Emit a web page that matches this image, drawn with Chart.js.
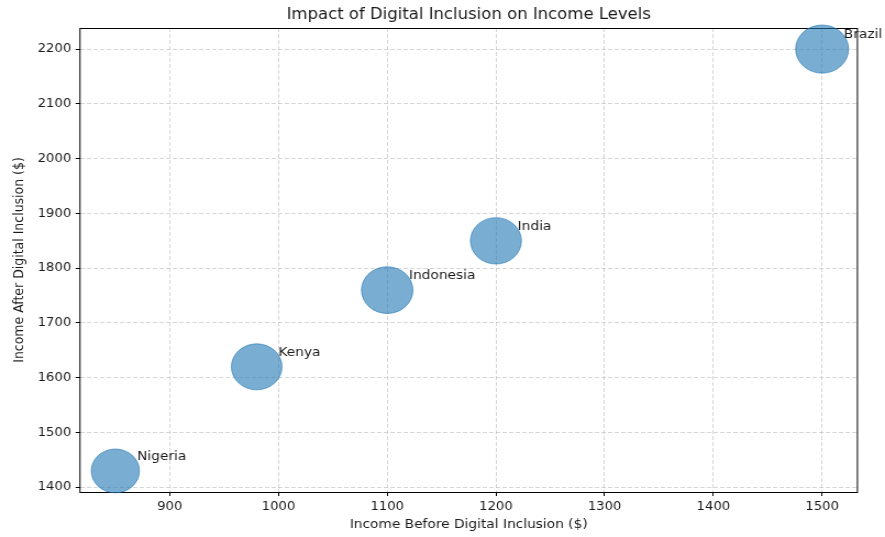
<!DOCTYPE html>
<html>
<head>
<meta charset="utf-8">
<script src="https://cdn.jsdelivr.net/npm/chart.js@4"></script>
<style>
html, body { margin: 0; padding: 0; background: #fff; }
</style>
</head>
<body>
<!-- the reference is stretched sideways a little, so the canvas is too -->
<canvas id="incomeChart" width="805" height="537" style="width:885px;height:537px;display:block"></canvas>
<script>
const countries = ['Nigeria', 'Kenya', 'Indonesia', 'India', 'Brazil'];
const incomeBefore = [850, 980, 1100, 1200, 1500];
const incomeAfter = [1430, 1620, 1760, 1850, 2200];
const xTicks = [900, 1000, 1100, 1200, 1300, 1400, 1500];
const yTicks = [1400, 1500, 1600, 1700, 1800, 1900, 2000, 2100, 2200];

const FONT = "'DejaVu Sans', sans-serif";
const TEXT = '#1a1a1a';
const STRETCH = 885 / 805;

// bubble area follows the income gain
const points = countries.map((c, i) => ({
    x: incomeBefore[i],
    y: incomeAfter[i],
    r: Math.sqrt(incomeAfter[i] - incomeBefore[i]) * 0.91
}));

const extras = {
    id: 'extras',
    beforeDatasetsDraw(chart) {
        const {ctx, chartArea: a} = chart;
        ctx.save();
        ctx.strokeStyle = '#000';
        ctx.lineWidth = 1;
        ctx.strokeRect(a.left, Math.round(a.top) + 0.5, a.right - a.left, Math.round(a.bottom - a.top));
        ctx.restore();
    },
    afterDatasetsDraw(chart) {
        const {ctx, chartArea: a, scales} = chart;
        ctx.save();
        ctx.fillStyle = TEXT;
        ctx.font = '12.5px ' + FONT;
        ctx.textAlign = 'left';
        ctx.textBaseline = 'alphabetic';
        countries.forEach((c, i) => {
            const px = scales.x.getPixelForValue(incomeBefore[i] + 20);
            const py = scales.y.getPixelForValue(incomeAfter[i] + 20);
            ctx.fillText(c, px, py);
        });

        ctx.textAlign = 'center';
        ctx.textBaseline = 'middle';
        ctx.font = '15px ' + FONT;
        ctx.fillText('Impact of Digital Inclusion on Income Levels', (a.left + a.right) / 2, 15);

        ctx.font = '12.5px ' + FONT;
        ctx.fillText('Income Before Digital Inclusion ($)', (a.left + a.right) / 2, 525);

        ctx.translate(20 / STRETCH, (a.top + a.bottom) / 2);
        ctx.rotate(-Math.PI / 2);
        ctx.fillText('Income After Digital Inclusion ($)', 0, 0);
        ctx.restore();
    }
};

const ctx = document.getElementById('incomeChart').getContext('2d');
const chart = new Chart(ctx, {
    type: 'bubble',
    data: {
        datasets: [{
            label: 'Countries',
            data: points,
            backgroundColor: 'rgba(31, 119, 180, 0.6)',
            borderColor: 'rgba(31, 119, 180, 0.6)',
            borderWidth: 1,
            hoverRadius: 0,
            clip: false
        }]
    },
    options: {
        responsive: false,
        devicePixelRatio: 1,
        animation: false,
        events: [],
        layout: {
            padding: {top: 28, right: 805 - 858 / STRETCH, left: 0, bottom: 0}
        },
        plugins: {
            legend: {display: false},
            title: {display: false},
            tooltip: {enabled: false}
        },
        scales: {
            x: {
                type: 'linear',
                min: 817.5,
                max: 1532.5,
                afterBuildTicks: axis => { axis.ticks = xTicks.map(v => ({value: v})); },
                afterFit: axis => { axis.height = 45; },
                border: {display: false, dash: [4, 2]},
                grid: {
                    color: 'rgba(176, 176, 176, 0.5)',
                    lineWidth: 1,
                    tickColor: '#000',
                    tickLength: 4,
                    tickBorderDash: []
                },
                ticks: {
                    color: TEXT,
                    font: {family: FONT, size: 12},
                    padding: 4,
                    maxRotation: 0,
                    callback: v => String(v)
                }
            },
            y: {
                type: 'linear',
                min: 1391.5,
                max: 2238.5,
                afterBuildTicks: axis => { axis.ticks = yTicks.map(v => ({value: v})); },
                afterFit: axis => { axis.width = 80 / STRETCH; },
                border: {display: false, dash: [4, 2]},
                grid: {
                    color: 'rgba(176, 176, 176, 0.5)',
                    lineWidth: 1,
                    tickColor: '#000',
                    tickLength: 4,
                    tickBorderDash: []
                },
                ticks: {
                    color: TEXT,
                    font: {family: FONT, size: 12},
                    padding: 4,
                    callback: v => String(v)
                }
            }
        }
    },
    plugins: [extras]
});
</script>
</body>
</html>
